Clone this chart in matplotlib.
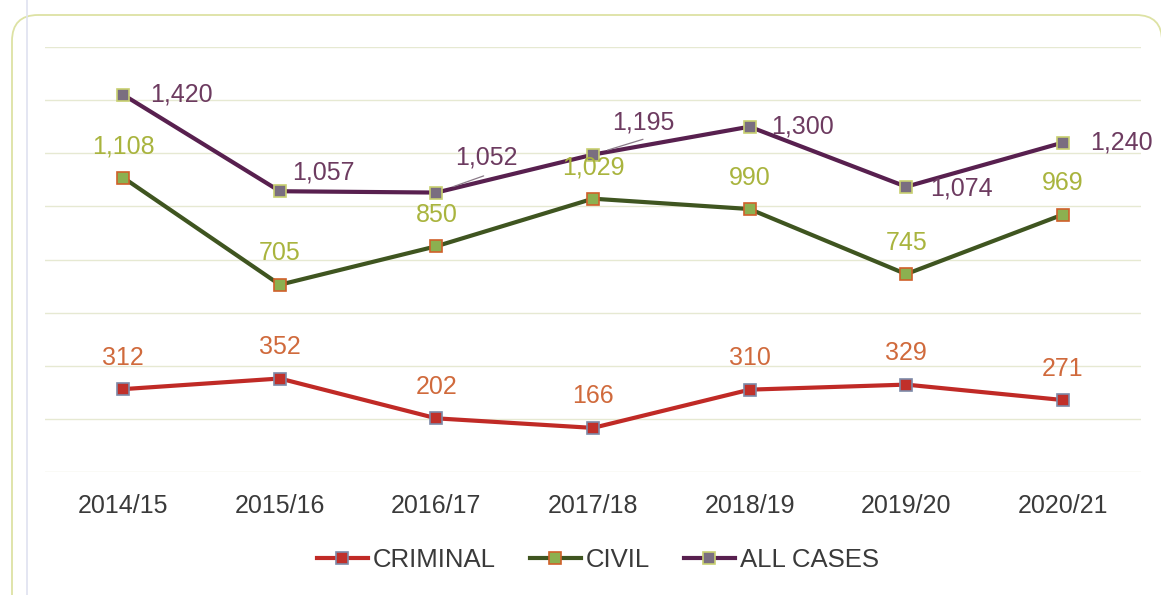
import matplotlib
matplotlib.use("Agg")
import matplotlib.pyplot as plt
from matplotlib.patches import FancyBboxPatch

years = ["2014/15", "2015/16", "2016/17", "2017/18", "2018/19", "2019/20", "2020/21"]
criminal = [312, 352, 202, 166, 310, 329, 271]
civil = [1108, 705, 850, 1029, 990, 745, 969]
all_cases = [1420, 1057, 1052, 1195, 1300, 1074, 1240]

plt.rcParams['font.family'] = ['Liberation Sans', 'DejaVu Sans']

W, H = 1161, 595
fig = plt.figure(figsize=(W / 100, H / 100), dpi=100)
fig.patch.set_facecolor('white')

# background frame drawn in pixel coordinates
bg = fig.add_axes([0, 0, 1, 1])
bg.set_xlim(0, W)
bg.set_ylim(H, 0)
bg.axis('off')
bg.add_patch(FancyBboxPatch((12, 15), 1150, 620, boxstyle="round,pad=0,rounding_size=26",
                            fill=False, edgecolor='#dde2a4', linewidth=1.3))
bg.plot([27, 27], [0, H], color='#dfe2f0', lw=1.2)

ax = fig.add_axes([45 / W, 1 - 472 / H, (1141 - 45) / W, (472 - 47) / H])
ax.patch.set_alpha(0)
x = list(range(len(years)))

ax.set_xlim(-0.5, 6.5)
ax.set_ylim(0, 1600)
ax.set_yticks(range(0, 1601, 200))
ax.yaxis.grid(True, color='#e6e9d2', linewidth=1.0)
ax.set_axisbelow(True)
ax.tick_params(axis='y', left=False, labelleft=False)
ax.tick_params(axis='x', bottom=False, labelsize=18, labelcolor='#3a3a3a', pad=12)
ax.set_xticks(x)
ax.set_xticklabels(years)
for s in ax.spines.values():
    s.set_visible(False)

c_crim_line, c_crim_fill, c_crim_edge, c_crim_lab = '#c02a26', '#c0302a', '#7d8aa8', '#d06a3c'
c_civ_line, c_civ_fill, c_civ_edge, c_civ_lab = '#3f5520', '#8cb050', '#d0602a', '#a9b43e'
c_all_line, c_all_fill, c_all_edge, c_all_lab = '#58204f', '#7a6e80', '#c8d070', '#6d3b60'

ax.plot(x, criminal, color=c_crim_line, lw=3, marker='s', ms=9, mfc=c_crim_fill,
        mec=c_crim_edge, mew=1.2, label='CRIMINAL', zorder=3)
ax.plot(x, civil, color=c_civ_line, lw=3, marker='s', ms=9, mfc=c_civ_fill,
        mec=c_civ_edge, mew=1.2, label='CIVIL', zorder=3)
ax.plot(x, all_cases, color=c_all_line, lw=3, marker='s', ms=9, mfc=c_all_fill,
        mec=c_all_edge, mew=1.2, label='ALL CASES', zorder=3)

fs = 18
for xi, v in zip(x, criminal):
    ax.annotate(f"{v:,}", (xi, v), xytext=(0, 14), textcoords='offset points',
                ha='center', va='bottom', color=c_crim_lab, fontsize=fs)
for xi, v in zip(x, civil):
    ax.annotate(f"{v:,}", (xi, v), xytext=(0, 14), textcoords='offset points',
                ha='center', va='bottom', color=c_civ_lab, fontsize=fs)

# offsets (points) for ALL CASES labels, left-aligned, vertically centred
all_offsets = [(19.4, 0), (8.6, 13.7), (13.7, 25), (13.7, 23), (15.8, 0), (17.3, -1.4), (19.4, 0)]
for xi, v, (dx, dy) in zip(x, all_cases, all_offsets):
    ax.annotate(f"{v:,}", (xi, v), xytext=(dx, dy), textcoords='offset points',
                ha='left', va='center', color=c_all_lab, fontsize=fs)

# small leader lines
leaders = {2: ((34, 12), 13), 3: ((36, 11), 11)}
for i, ((lx, ly), shr) in leaders.items():
    ax.annotate("", (x[i], all_cases[i]), xytext=(lx, ly), textcoords='offset points',
                arrowprops=dict(arrowstyle='-', color='#8a7a88', lw=0.9, shrinkA=0, shrinkB=shr))

ax.legend(loc='center', bbox_to_anchor=(0.5 + 5 / 1096, (472 - 560) / 425),
          ncol=3, frameon=False, fontsize=18.5, handlelength=2.0, columnspacing=1.3,
          handletextpad=0.2, labelcolor='#3a3a3a')

fig.savefig('out.png', dpi=100)
